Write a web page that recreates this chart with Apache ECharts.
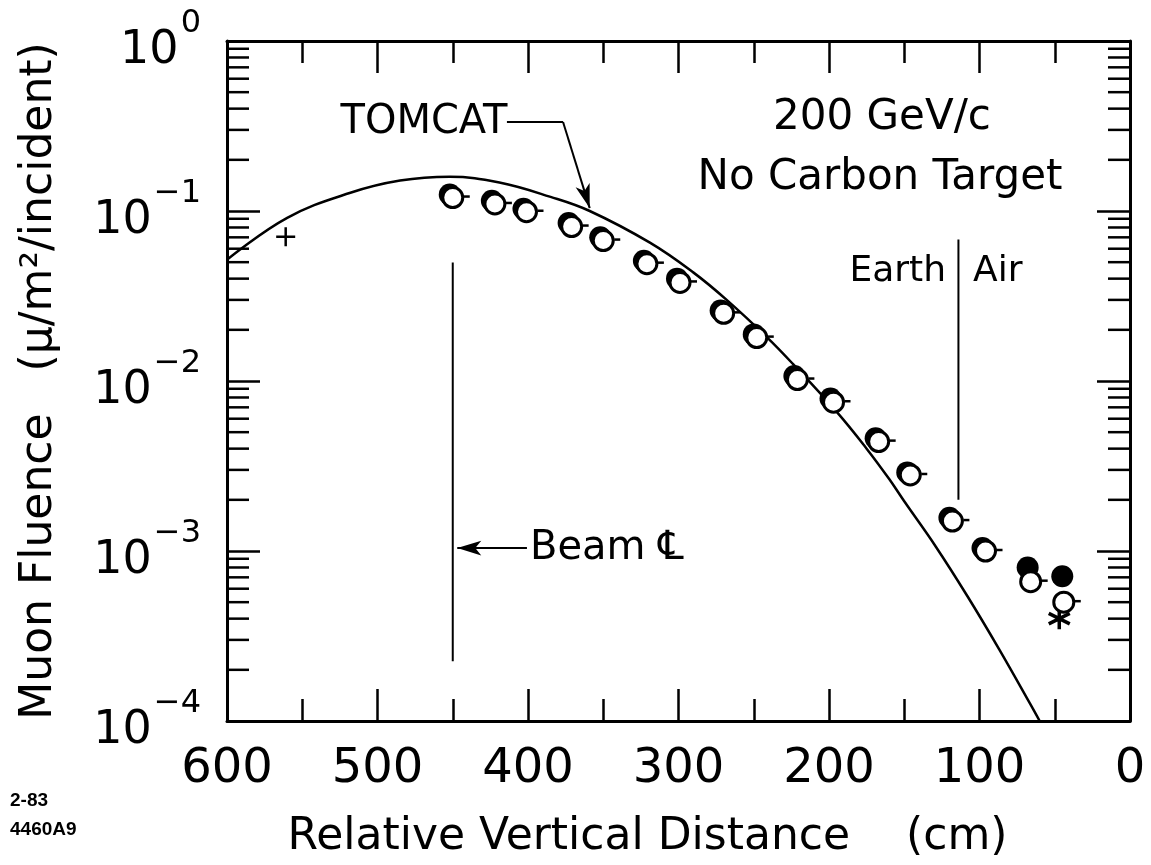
<!DOCTYPE html>
<html><head><meta charset="utf-8">
<script src="https://cdn.jsdelivr.net/npm/echarts@6/dist/echarts.min.js"></script>
<style>html,body{margin:0;padding:0;background:#fff}#c{width:1151px;height:865px}</style>
</head><body><div id="c"></div>
<script>
// ---------- data ----------
const FONT = 'DejaVu Sans';
const xTickValues = [600, 500, 400, 300, 200, 100, 0];
const yDecades = [1e-4, 1e-3, 1e-2, 1e-1, 1];
const yMinorMultipliers = [2, 3, 4, 5, 6, 7, 8, 9];

// TOMCAT calculation curve
const curveX = [600, 560, 518, 485, 452, 419, 385, 359, 319, 290, 268, 241, 224, 195, 175, 160, 150, 129, 108, 87, 66.5, 60];
const curveY = [0.0517, 0.0912, 0.128, 0.151, 0.159, 0.147, 0.121, 0.100, 0.0651, 0.0434, 0.0300, 0.0180, 0.0126, 0.0066, 0.0040, 0.00265, 0.00196, 0.00106, 0.000542, 0.000265, 0.000127, 0.0001];

// open-circle measurements
const openX = [450, 422, 401, 371, 350, 321, 299, 270, 248, 221, 197, 167, 146, 118, 96, 66, 44];
const openY = [0.120, 0.110, 0.099, 0.081, 0.067, 0.049, 0.038, 0.025, 0.018, 0.0102, 0.0075, 0.0044, 0.0028, 0.0015, 0.00100, 0.00066, 0.00050];

// filled-circle measurements
const filledX = [452, 424, 403, 373, 352, 323, 301, 272, 250, 223, 199, 169, 148, 120, 98, 68, 45];
const filledY = [0.125, 0.115, 0.103, 0.085, 0.070, 0.051, 0.040, 0.026, 0.0188, 0.0107, 0.0079, 0.0046, 0.0029, 0.00157, 0.00104, 0.00080, 0.00071];

// single points
const plusX = [561], plusY = [0.0706];
const starX = [47], starY = [0.00040];

// reference lines
const beamX = [450, 450], beamY = [0.0497, 0.000225];
const earthX = [114, 114], earthY = [0.068, 0.0020];

// annotation arrows (data coordinates)
const tomcatLeaderX = [414, 376.7], tomcatLeaderY = [0.334, 0.334];
const tomcatArrowX = [376.7, 359], tomcatArrowY = [0.334, 0.104];
const beamArrowX = [400.7, 447], beamArrowY = [0.00104, 0.00104];

// ---------- build ----------
const zip = (xs, ys) => xs.map((x, i) => [x, ys[i]]);
const yMinorData = [];
yDecades.slice(0, -1).forEach(d => yMinorMultipliers.forEach(m => yMinorData.push([0, +(d * m).toPrecision(3)])));

const supFmt = v => {
  const e = Math.round(Math.log10(v));
  const s = e === 0 ? '0' : '\u2212' + Math.abs(e);
  return '{b|10}{s|' + s + '}';
};

const black = '#000';
const axisCommon = {
  axisLine: { show: true, onZero: false, lineStyle: { color: black, width: 3 } },
  splitLine: { show: false },
};
const xAxisBase = Object.assign({}, axisCommon, {
  type: 'value', min: 0, max: 600, interval: 100, inverse: true,
  axisTick: { show: true, inside: true, length: 32, lineStyle: { color: black, width: 2.5 } },
  minorTick: { show: true, splitNumber: 2, length: 22, lineStyle: { color: black, width: 2.5 } },
  minorSplitLine: { show: false }
});
const yAxisBase = Object.assign({}, axisCommon, {
  type: 'log', logBase: 10, min: 1e-4, max: 1,
  axisTick: { show: true, inside: true, length: 33, lineStyle: { color: black, width: 2.5 } }
});

const option = {
  backgroundColor: '#fff',
  animation: false,
  grid: { left: 227, right: 21, top: 41, bottom: 143 },
  xAxis: [
    Object.assign({}, xAxisBase, {
      position: 'bottom',
      axisLabel: { show: true, color: black, fontSize: 48, fontFamily: FONT, margin: 25,
        formatter: v => xTickValues.includes(v) ? String(v) : '' },
      name: 'Relative Vertical Distance    (cm)',
      nameLocation: 'middle', nameGap: 95,
      nameTextStyle: { color: black, fontSize: 44, fontFamily: FONT, padding: [0, 62, 0, 0] }
    }),
    Object.assign({}, xAxisBase, { position: 'top', axisLabel: { show: false } })
  ],
  yAxis: [
    Object.assign({}, yAxisBase, {
      position: 'left',
      axisLabel: { show: true, margin: 26, formatter: supFmt,
        rich: {
          b: { fontSize: 46, fontFamily: FONT, color: black, lineHeight: 66, verticalAlign: 'bottom' },
          s: { fontSize: 32, fontFamily: FONT, color: black, verticalAlign: 'top', padding: [0, 0, 0, 2] }
        } },
      name: 'Muon Fluence   (\u03bc/m\u00b2/incident)',
      nameLocation: 'middle', nameGap: 165,
      nameTextStyle: { color: black, fontSize: 44, fontFamily: FONT }
    }),
    Object.assign({}, yAxisBase, { position: 'right', axisLabel: { show: false } })
  ],
  graphic: [
    { type: 'text', x: 424, y: 123, style: { text: 'TOMCAT', font: '40px ' + FONT, fill: black, align: 'center', verticalAlign: 'middle' } },
    { type: 'text', x: 882, y: 118, style: { text: '200 GeV/c', font: '42px ' + FONT, fill: black, align: 'center', verticalAlign: 'middle' } },
    { type: 'text', x: 880, y: 178, style: { text: 'No Carbon Target', font: '42px ' + FONT, fill: black, align: 'center', verticalAlign: 'middle' } },
    { type: 'text', x: 946, y: 272, style: { text: 'Earth', font: '36px ' + FONT, fill: black, align: 'right', verticalAlign: 'middle' } },
    { type: 'text', x: 973, y: 272, style: { text: 'Air', font: '36px ' + FONT, fill: black, align: 'left', verticalAlign: 'middle' } },
    { type: 'text', x: 530, y: 549, style: { text: 'Beam \u2104', font: '40px ' + FONT, fill: black, align: 'left', verticalAlign: 'middle' } },
    { type: 'text', x: 10, y: 801, style: { text: '2-83', font: 'bold 19px Liberation Sans', fill: black, align: 'left', verticalAlign: 'middle' } },
    { type: 'text', x: 10, y: 830, style: { text: '4460A9', font: 'bold 19px Liberation Sans', fill: black, align: 'left', verticalAlign: 'middle' } }
  ],
  series: [
    {
      type: 'custom', name: 'minorY', coordinateSystem: 'cartesian2d', silent: true, z: 5,
      encode: { x: 0, y: 1 },
      data: yMinorData,
      renderItem: (params, api) => {
        const v = api.value(1);
        const pl = api.coord([600, v]);
        const pr = api.coord([0, v]);
        const st = { stroke: black, lineWidth: 2.5 };
        return { type: 'group', children: [
          { type: 'line', shape: { x1: pl[0], y1: pl[1], x2: pl[0] + 22, y2: pl[1] }, style: st },
          { type: 'line', shape: { x1: pr[0] - 22, y1: pr[1], x2: pr[0], y2: pr[1] }, style: st }
        ] };
      }
    },
    {
      type: 'line', name: 'TOMCAT', data: zip(curveX, curveY), smooth: 0.4, symbol: 'none',
      lineStyle: { color: black, width: 2.5 }, z: 3
    },
    {
      type: 'line', name: 'Beam CL', data: zip(beamX, beamY), symbol: 'none',
      lineStyle: { color: black, width: 2 }, z: 3,
      markLine: {
        silent: true, symbol: ['none', 'arrow'], symbolSize: [11, 24],
        lineStyle: { color: black, width: 2, type: 'solid' },
        itemStyle: { color: black },
        label: { show: false },
        data: [
          [{ coord: zip(beamArrowX, beamArrowY)[0] }, { coord: zip(beamArrowX, beamArrowY)[1] }],
          [{ coord: zip(tomcatArrowX, tomcatArrowY)[0] }, { coord: zip(tomcatArrowX, tomcatArrowY)[1] }]
        ]
      }
    },
    {
      type: 'line', name: 'TOMCAT leader', data: zip(tomcatLeaderX, tomcatLeaderY), symbol: 'none',
      lineStyle: { color: black, width: 2 }, z: 3
    },
    {
      type: 'line', name: 'Earth/Air', data: zip(earthX, earthY), symbol: 'none',
      lineStyle: { color: black, width: 2 }, z: 3
    },
    {
      type: 'scatter', name: 'filled', data: zip(filledX, filledY), symbol: 'circle', symbolSize: 22,
      itemStyle: { color: black, opacity: 1 }, z: 6
    },
    {
      type: 'scatter', name: 'open', data: zip(openX, openY),
      symbol: 'circle', symbolSize: 20,
      itemStyle: { color: '#fff', borderColor: black, borderWidth: 3, opacity: 1 }, z: 7
    },
    {
      type: 'scatter', name: 'open tail', data: zip(openX, openY), silent: true,
      symbol: 'rect', symbolSize: [6, 2.5], symbolOffset: [14, -1],
      itemStyle: { color: black, opacity: 1 }, z: 7
    },
    {
      type: 'scatter', name: 'plus', data: zip(plusX, plusY),
      symbol: 'path://M0,-10L0,10M-10,0L10,0', symbolSize: 19,
      itemStyle: { color: 'rgba(0,0,0,0)', borderColor: black, borderWidth: 2.5, opacity: 1 }, z: 6
    },
    {
      type: 'scatter', name: 'star', data: zip(starX, starY),
      symbol: 'path://M0,-10L0,10M-8.66,-5L8.66,5M-8.66,5L8.66,-5', symbolSize: 21,
      itemStyle: { color: 'rgba(0,0,0,0)', borderColor: black, borderWidth: 3.5, opacity: 1 }, z: 6
    }
  ]
};
const chart = echarts.init(document.getElementById('c'), null, { renderer: 'canvas' });
chart.setOption(option);
</script>
</body></html>
